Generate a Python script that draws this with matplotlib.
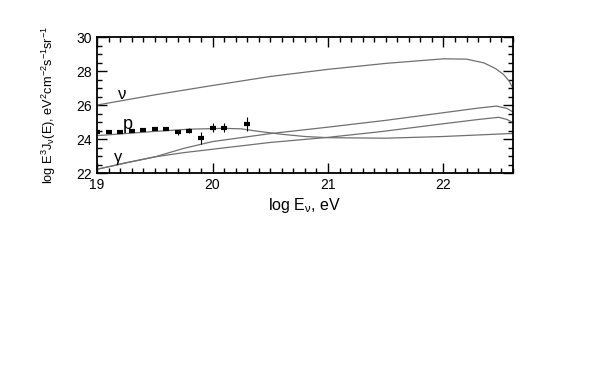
import matplotlib
matplotlib.use("Agg")
import matplotlib.pyplot as plt
from matplotlib.ticker import MultipleLocator

plt.rcParams["font.family"] = ["Liberation Sans", "DejaVu Sans"]
plt.rcParams["mathtext.fontset"] = "custom"
plt.rcParams["mathtext.rm"] = "Liberation Sans"
plt.rcParams["mathtext.it"] = "Liberation Sans"

# neutrino flux curve
nu_x = [19.0, 19.5, 20.0, 20.5, 21.0, 21.5, 22.0, 22.2, 22.35, 22.45, 22.52, 22.57, 22.6]
nu_y = [26.0, 26.6, 27.15, 27.68, 28.1, 28.45, 28.72, 28.7, 28.48, 28.15, 27.8, 27.4, 27.0]

# proton curve
p_x = [19.0, 19.3, 19.5, 19.8, 20.1, 20.25, 20.4, 20.6, 20.8, 21.0, 21.5, 22.0, 22.6]
p_y = [24.2, 24.35, 24.45, 24.58, 24.63, 24.6, 24.45, 24.28, 24.15, 24.08, 24.05, 24.15, 24.33]

# photon curves (two scenarios)
g1_x = [19.0, 19.25, 19.5, 19.75, 20.0, 20.5, 21.0, 21.5, 22.0, 22.3, 22.46, 22.55, 22.6]
g1_y = [22.22, 22.6, 22.95, 23.45, 23.85, 24.32, 24.7, 25.1, 25.55, 25.82, 25.94, 25.8, 25.6]
g2_x = [19.0, 19.25, 19.5, 19.75, 20.0, 20.5, 21.0, 21.45, 22.0, 22.3, 22.48, 22.55, 22.6]
g2_y = [22.22, 22.6, 22.95, 23.2, 23.4, 23.8, 24.1, 24.43, 24.9, 25.15, 25.28, 25.15, 24.98]

# measured points
dat_x = [19.0, 19.1, 19.2, 19.3, 19.4, 19.5, 19.6, 19.7, 19.8, 19.9, 20.0, 20.1, 20.3]
dat_y = [24.43, 24.41, 24.43, 24.45, 24.51, 24.57, 24.61, 24.39, 24.5, 24.06, 24.67, 24.67, 24.88]
dat_err = [0.0, 0.0, 0.0, 0.0, 0.0, 0.0, 0.0, 0.15, 0.15, 0.38, 0.27, 0.25, 0.42]

fig = plt.figure(figsize=(5.99, 3.82), dpi=100)
ax = fig.add_axes([0.162, 0.547, 0.694, 0.356])

line_kw = dict(color="#707070", lw=0.9)
ax.plot(nu_x, nu_y, **line_kw)
ax.plot(p_x, p_y, **line_kw)
ax.plot(g1_x, g1_y, **line_kw)
ax.plot(g2_x, g2_y, **line_kw)

ax.errorbar(dat_x, dat_y, yerr=dat_err, fmt="_", color="black", ms=5, mew=3,
            ecolor="black", elinewidth=0.8, capsize=0, zorder=4)

ax.text(19.22, 26.6, "\u03bd", fontsize=12, ha="center", va="center")
ax.text(19.27, 24.85, "p", fontsize=13, ha="center", va="center")
ax.text(19.18, 22.9, "\u03b3", fontsize=12, ha="center", va="center")

ax.set_xlim(19, 22.6)
ax.set_ylim(22, 30)
ax.xaxis.set_major_locator(MultipleLocator(1))
ax.xaxis.set_minor_locator(MultipleLocator(0.1))
ax.yaxis.set_major_locator(MultipleLocator(2))
ax.yaxis.set_minor_locator(MultipleLocator(0.5))
ax.tick_params(which="both", direction="in", top=True, right=True, labelsize=10)
ax.tick_params(which="major", length=7, width=1)
ax.tick_params(which="minor", length=3.5, width=1)
for s in ax.spines.values():
    s.set_linewidth(1.3)

ax.set_xlabel("log E$_\\mathrm{\u03bd}$, eV", fontsize=11.5, labelpad=3)
ax.set_ylabel("log E$^3$J$_\\mathrm{\u03bd}$(E), eV$^2$cm$^{-2}$s$^{-1}$sr$^{-1}$",
              fontsize=9.2)
ax.yaxis.set_label_coords(-0.095, 0.5)

fig.savefig("out.png", dpi=100)
